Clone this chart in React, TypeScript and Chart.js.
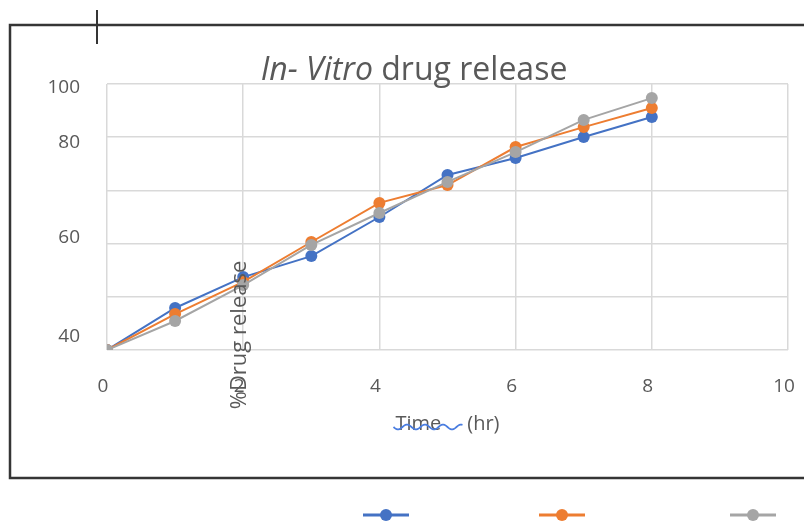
import { useEffect, useRef } from "react";
import { Chart, registerables } from "chart.js";

Chart.register(...registerables);

// Release time points (hours)
const hours = [0, 1, 2, 3, 4, 5, 6, 7, 8];

// Cumulative % drug release for the three formulations
const formulationA = [0, 15.8, 27.4, 35.3, 50.0, 65.8, 72.2, 80.1, 87.6];
const formulationB = [0, 13.5, 25.6, 40.6, 55.3, 62.0, 76.3, 83.8, 91.0];
const formulationC = [0, 10.9, 24.4, 39.5, 51.5, 63.2, 74.4, 86.5, 94.7];

// Axis ticks
const xTickValues = [0, 2, 4, 6, 8, 10];
const yGridValues = [0, 20, 40, 60, 80, 100];
const yTickLabels = ["100", "80", "60", "40"];
const yTickLabelValues = [98.5, 77.8, 42.1, 4.9];

const COLORS = ["#4472C4", "#ED7D31", "#A5A5A5"];
const TEXT = "#595959";
const GRID = "#d9d9d9";
const FONT = "'Open Sans', Lato, sans-serif";
const X_TITLE_WORD = "Time";
const X_TITLE_GAP = "     ";
const X_TITLE = `${X_TITLE_WORD}${X_TITLE_GAP}(hr)`;

const decorPlugin = {
  id: "decor",
  beforeDraw(chart: any) {
    const { ctx } = chart;
    ctx.save();
    ctx.fillStyle = "#ffffff";
    ctx.fillRect(0, 0, chart.width, chart.height);
    // outer frame
    ctx.strokeStyle = "#353535";
    ctx.lineWidth = 2.5;
    ctx.beginPath();
    ctx.moveTo(chart.width + 5, 25);
    ctx.lineTo(10, 25);
    ctx.lineTo(10, 478);
    ctx.lineTo(chart.width + 5, 478);
    ctx.stroke();
    // crop mark
    ctx.lineWidth = 2;
    ctx.beginPath();
    ctx.moveTo(97, 10);
    ctx.lineTo(97, 44);
    ctx.stroke();
    ctx.restore();
  },
  afterDraw(chart: any) {
    const { ctx, chartArea } = chart;
    const xs = chart.scales.x;
    ctx.save();

    // chart title with italic prefix
    const italicPart = "In- Vitro";
    const normalPart = " drug release";
    const italicFont = `italic 32px ${FONT}`;
    const normalFont = `32px ${FONT}`;
    ctx.font = italicFont;
    const w1 = ctx.measureText(italicPart).width;
    ctx.font = normalFont;
    const w2 = ctx.measureText(normalPart).width;
    const cx = 414;
    const tx = cx - (w1 + w2) / 2;
    ctx.fillStyle = TEXT;
    ctx.textBaseline = "alphabetic";
    ctx.textAlign = "left";
    ctx.font = italicFont;
    ctx.fillText(italicPart, tx, 80);
    ctx.font = normalFont;
    ctx.fillText(normalPart, tx + w1, 80);

    // rotated value-axis title
    ctx.save();
    ctx.translate(xs.getPixelForValue(2) - 3, chartArea.bottom - 15);
    ctx.rotate(-Math.PI / 2);
    ctx.font = `22px ${FONT}`;
    ctx.textAlign = "center";
    ctx.textBaseline = "middle";
    ctx.fillText("%Drug release", 0, 0);
    ctx.restore();

    // spell-check wave under the time title
    ctx.font = `20px ${FONT}`;
    const fw = ctx.measureText(X_TITLE).width;
    const start = (xs.left + xs.right) / 2 - fw / 2 - 2;
    const end = start + ctx.measureText(X_TITLE_WORD + X_TITLE_GAP).width - 2;
    const wy = 427;
    ctx.strokeStyle = "#4a7de0";
    ctx.lineWidth = 1.8;
    ctx.beginPath();
    for (let x = start; x <= end; x += 1) {
      const y = wy + 2.5 * Math.sin(((x - start) / 18) * Math.PI * 2);
      if (x === start) ctx.moveTo(x, y);
      else ctx.lineTo(x, y);
    }
    ctx.stroke();

    // legend markers (no labels)
    const legendX = [386, 562, 753];
    chart.data.datasets.forEach((ds: any, i: number) => {
      const lx = legendX[i];
      const ly = 515;
      ctx.strokeStyle = ds.borderColor;
      ctx.lineWidth = 3;
      ctx.beginPath();
      ctx.moveTo(lx - 23, ly);
      ctx.lineTo(lx + 23, ly);
      ctx.stroke();
      ctx.fillStyle = ds.backgroundColor;
      ctx.beginPath();
      ctx.arc(lx, ly, 6, 0, Math.PI * 2);
      ctx.fill();
    });

    ctx.restore();
  },
};

function toPoints(values: number[]) {
  return hours.map((h, i) => ({ x: h, y: values[i] }));
}

export default function App() {
  const ref = useRef<HTMLCanvasElement>(null);

  useEffect(() => {
    document.body.style.margin = "0";
    const series = [formulationA, formulationB, formulationC];
    const tickFont = { family: FONT, size: 19 };
    const chart = new Chart(ref.current!, {
      type: "line",
      data: {
        datasets: series.map((vals, i) => ({
          label: `F${i + 1}`,
          data: toPoints(vals),
          borderColor: COLORS[i],
          backgroundColor: COLORS[i],
          pointBackgroundColor: COLORS[i],
          pointBorderColor: COLORS[i],
          pointRadius: 6,
          pointBorderWidth: 0,
          borderWidth: 2,
          tension: 0,
          order: 2 - i,
        })),
      },
      options: {
        responsive: false,
        animation: false,
        layout: { padding: { left: 0, right: 16, top: 84, bottom: 74 } },
        plugins: {
          legend: { display: false },
          title: { display: false },
          tooltip: { enabled: false },
        },
        scales: {
          x: {
            type: "linear",
            min: 0,
            max: 10,
            afterBuildTicks: (s: any) => {
              s.ticks = xTickValues.map((v) => ({ value: v }));
            },
            grid: { color: GRID, lineWidth: 1.5, drawTicks: false },
            border: { display: false },
            ticks: {
              padding: 25,
              font: tickFont,
              color: TEXT,
              autoSkip: false,
              maxRotation: 0,
              labelOffset: -4,
            },
            title: {
              display: true,
              text: X_TITLE,
              font: { family: FONT, size: 20 },
              color: TEXT,
              padding: { top: 0, bottom: 14 },
            },
            afterFit: (s: any) => {
              s.height = 100;
              s.paddingLeft = 0;
              s.paddingRight = 0;
            },
          },
          y: {
            type: "linear",
            position: "left",
            weight: 0,
            min: 0,
            max: 100,
            afterBuildTicks: (s: any) => {
              s.ticks = yGridValues.map((v) => ({ value: v }));
            },
            grid: { color: GRID, lineWidth: 1.5, drawTicks: false },
            border: { display: false },
            ticks: { display: false },
            afterFit: (s: any) => {
              s.width = 0;
              s.paddingTop = 0;
              s.paddingBottom = 0;
            },
          },
          yLabels: {
            type: "linear",
            position: "left",
            weight: 1,
            min: 0,
            max: 100,
            afterBuildTicks: (s: any) => {
              s.ticks = yTickLabelValues.map((v) => ({ value: v }));
            },
            grid: { display: false, drawTicks: false },
            border: { display: false },
            ticks: {
              autoSkip: false,
              padding: 27,
              font: tickFont,
              color: TEXT,
              callback: (_v: any, i: number) => yTickLabels[i],
            },
            afterFit: (s: any) => {
              s.width = 107;
              s.paddingTop = 0;
              s.paddingBottom = 0;
            },
          },
        },
      } as any,
      plugins: [decorPlugin],
    });
    return () => chart.destroy();
  }, []);

  return (
    <div style={{ width: 804, height: 524 }}>
      <canvas ref={ref} width={804} height={524} style={{ display: "block" }} />
    </div>
  );
}
